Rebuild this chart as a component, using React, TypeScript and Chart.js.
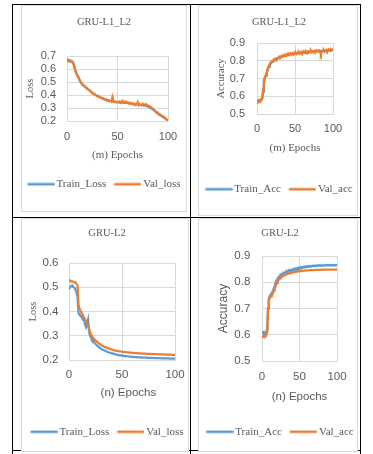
import React, { useEffect, useRef } from "react";
import { Chart, registerables } from "chart.js";
Chart.register(...registerables);

// ---------- data ----------
const EPOCHS = Array.from({ length: 101 }, (_, i) => i);
const X_TICKS = [0, 50, 100];
const Y_TICKS_LOSS_L1L2 = [0.2, 0.3, 0.4, 0.5, 0.6, 0.7];
const Y_TICKS_ACC_L1L2 = [0.5, 0.6, 0.7, 0.8, 0.9];
const Y_TICKS_LOSS_L2 = [0.2, 0.3, 0.4, 0.5, 0.6];
const Y_TICKS_ACC_L2 = [0.5, 0.6, 0.7, 0.8, 0.9];

const TRAIN_LOSS_L1L2 = [
  0.676, 0.672, 0.668, 0.667, 0.663, 0.66, 0.652, 0.63, 0.598, 0.572,
  0.556, 0.543, 0.525, 0.508, 0.495, 0.484, 0.478, 0.47, 0.464, 0.457,
  0.45, 0.443, 0.437, 0.431, 0.424, 0.417, 0.41, 0.407, 0.402, 0.397,
  0.392, 0.388, 0.385, 0.382, 0.377, 0.374, 0.371, 0.368, 0.364, 0.362,
  0.359, 0.357, 0.355, 0.353, 0.351, 0.35, 0.349, 0.348, 0.347, 0.346,
  0.345, 0.344, 0.344, 0.343, 0.342, 0.342, 0.341, 0.34, 0.34, 0.339,
  0.338, 0.337, 0.336, 0.335, 0.333, 0.332, 0.331, 0.33, 0.329, 0.328,
  0.327, 0.326, 0.325, 0.324, 0.323, 0.322, 0.321, 0.319, 0.317, 0.315,
  0.312, 0.308, 0.304, 0.299, 0.294, 0.288, 0.281, 0.275, 0.268, 0.262,
  0.256, 0.25, 0.245, 0.24, 0.235, 0.23, 0.226, 0.221, 0.215, 0.209, 0.203,
];
const VAL_LOSS_L1L2 = [
  0.66, 0.662, 0.658, 0.66, 0.656, 0.652, 0.645, 0.625, 0.595, 0.57,
  0.552, 0.54, 0.522, 0.505, 0.492, 0.482, 0.476, 0.468, 0.462, 0.455,
  0.448, 0.442, 0.436, 0.43, 0.423, 0.416, 0.408, 0.41, 0.401, 0.396,
  0.392, 0.386, 0.39, 0.381, 0.377, 0.372, 0.376, 0.366, 0.362, 0.366,
  0.356, 0.36, 0.352, 0.356, 0.35, 0.384, 0.352, 0.346, 0.351, 0.345,
  0.342, 0.347, 0.351, 0.34, 0.346, 0.356, 0.341, 0.346, 0.35, 0.34,
  0.344, 0.336, 0.341, 0.335, 0.331, 0.336, 0.326, 0.331, 0.322, 0.33,
  0.345, 0.321, 0.33, 0.326, 0.32, 0.331, 0.321, 0.326, 0.331, 0.322,
  0.32, 0.316, 0.311, 0.306, 0.301, 0.296, 0.288, 0.281, 0.273, 0.268,
  0.262, 0.256, 0.251, 0.245, 0.241, 0.236, 0.231, 0.225, 0.219, 0.211, 0.204,
];
const TRAIN_ACC_L1L2 = [
  0.565, 0.568, 0.57, 0.572, 0.574, 0.576, 0.58, 0.588, 0.625, 0.675,
  0.697, 0.706, 0.718, 0.732, 0.745, 0.757, 0.767, 0.776, 0.783, 0.789,
  0.794, 0.798, 0.801, 0.804, 0.807, 0.81, 0.812, 0.814, 0.816, 0.818,
  0.82, 0.822, 0.823, 0.825, 0.826, 0.828, 0.829, 0.83, 0.831, 0.832,
  0.833, 0.834, 0.835, 0.836, 0.837, 0.838, 0.839, 0.839, 0.84, 0.841,
  0.841, 0.842, 0.843, 0.843, 0.844, 0.844, 0.845, 0.845, 0.846, 0.846,
  0.847, 0.847, 0.848, 0.848, 0.849, 0.849, 0.849, 0.85, 0.85, 0.851,
  0.851, 0.851, 0.852, 0.852, 0.852, 0.853, 0.853, 0.853, 0.854, 0.854,
  0.854, 0.855, 0.855, 0.855, 0.856, 0.856, 0.856, 0.857, 0.857, 0.857,
  0.858, 0.858, 0.858, 0.859, 0.859, 0.859, 0.86, 0.86, 0.86, 0.861, 0.861,
];
const VAL_ACC_L1L2 = [
  0.575, 0.572, 0.578, 0.574, 0.58, 0.577, 0.585, 0.592, 0.64, 0.69,
  0.705, 0.712, 0.728, 0.742, 0.756, 0.768, 0.776, 0.785, 0.79, 0.794,
  0.798, 0.8, 0.806, 0.803, 0.811, 0.812, 0.809, 0.816, 0.818, 0.814,
  0.822, 0.819, 0.825, 0.823, 0.828, 0.825, 0.831, 0.827, 0.833, 0.829,
  0.836, 0.831, 0.838, 0.834, 0.841, 0.836, 0.839, 0.843, 0.835, 0.842,
  0.84, 0.845, 0.838, 0.844, 0.842, 0.848, 0.841, 0.846, 0.85, 0.843,
  0.847, 0.852, 0.845, 0.849, 0.855, 0.846, 0.851, 0.848, 0.853, 0.847,
  0.85, 0.856, 0.848, 0.852, 0.849, 0.855, 0.85, 0.853, 0.858, 0.851,
  0.855, 0.852, 0.857, 0.85, 0.838, 0.852, 0.856, 0.853, 0.859, 0.852,
  0.857, 0.861, 0.854, 0.858, 0.863, 0.855, 0.86, 0.866, 0.858, 0.862, 0.864,
];
const TRAIN_LOSS_L2 = [
  0.492, 0.5, 0.505, 0.508, 0.502, 0.498, 0.492, 0.48, 0.462, 0.392,
  0.386, 0.382, 0.376, 0.368, 0.372, 0.35, 0.336, 0.348, 0.366, 0.316,
  0.298, 0.29, 0.278, 0.286, 0.27, 0.266, 0.262, 0.258, 0.254, 0.25,
  0.247, 0.244, 0.242, 0.24, 0.238, 0.236, 0.234, 0.232, 0.231, 0.229,
  0.228, 0.227, 0.226, 0.224, 0.223, 0.222, 0.221, 0.22, 0.219, 0.219,
  0.218, 0.217, 0.217, 0.216, 0.216, 0.215, 0.215, 0.214, 0.214, 0.213,
  0.213, 0.213, 0.212, 0.212, 0.212, 0.211, 0.211, 0.211, 0.211, 0.21,
  0.21, 0.21, 0.21, 0.21, 0.209, 0.209, 0.209, 0.209, 0.209, 0.209,
  0.208, 0.208, 0.208, 0.208, 0.208, 0.208, 0.208, 0.207, 0.207, 0.207,
  0.207, 0.207, 0.207, 0.207, 0.207, 0.206, 0.206, 0.206, 0.206, 0.206, 0.206,
];
const VAL_LOSS_L2 = [
  0.532, 0.528, 0.524, 0.525, 0.522, 0.52, 0.521, 0.514, 0.508, 0.425,
  0.412, 0.402, 0.392, 0.385, 0.377, 0.37, 0.362, 0.352, 0.342, 0.326,
  0.312, 0.303, 0.296, 0.29, 0.285, 0.281, 0.277, 0.273, 0.27, 0.266,
  0.263, 0.26, 0.258, 0.256, 0.254, 0.252, 0.25, 0.248, 0.247, 0.245,
  0.244, 0.243, 0.241, 0.24, 0.239, 0.238, 0.237, 0.236, 0.236, 0.235,
  0.234, 0.233, 0.233, 0.232, 0.232, 0.231, 0.231, 0.23, 0.23, 0.229,
  0.229, 0.229, 0.228, 0.228, 0.228, 0.227, 0.227, 0.227, 0.227, 0.226,
  0.226, 0.226, 0.226, 0.225, 0.225, 0.225, 0.225, 0.225, 0.224, 0.224,
  0.224, 0.224, 0.224, 0.224, 0.223, 0.223, 0.223, 0.223, 0.223, 0.223,
  0.223, 0.222, 0.222, 0.222, 0.222, 0.222, 0.222, 0.221, 0.221, 0.221, 0.221,
];
const TRAIN_ACC_L2 = [
  0.614, 0.61, 0.605, 0.6, 0.608, 0.604, 0.612, 0.622, 0.7, 0.735,
  0.746, 0.75, 0.755, 0.758, 0.765, 0.772, 0.78, 0.789, 0.797, 0.804,
  0.81, 0.815, 0.818, 0.822, 0.825, 0.828, 0.827, 0.832, 0.83, 0.835,
  0.833, 0.838, 0.836, 0.84, 0.837, 0.843, 0.839, 0.844, 0.842, 0.846,
  0.844, 0.848, 0.846, 0.85, 0.847, 0.851, 0.849, 0.853, 0.851, 0.854,
  0.852, 0.856, 0.854, 0.857, 0.855, 0.858, 0.857, 0.859, 0.858, 0.86,
  0.859, 0.861, 0.86, 0.861, 0.86, 0.862, 0.861, 0.862, 0.861, 0.863,
  0.862, 0.863, 0.862, 0.863, 0.862, 0.864, 0.863, 0.864, 0.863, 0.864,
  0.863, 0.864, 0.863, 0.864, 0.864, 0.865, 0.864, 0.865, 0.864, 0.865,
  0.864, 0.865, 0.864, 0.865, 0.865, 0.865, 0.864, 0.865, 0.865, 0.865, 0.865,
];
const VAL_ACC_L2 = [
  0.596, 0.594, 0.597, 0.595, 0.598, 0.597, 0.6, 0.612, 0.7, 0.728,
  0.738, 0.742, 0.746, 0.749, 0.754, 0.761, 0.769, 0.777, 0.784, 0.791,
  0.797, 0.803, 0.808, 0.812, 0.815, 0.818, 0.82, 0.822, 0.824, 0.826,
  0.827, 0.829, 0.83, 0.831, 0.832, 0.833, 0.834, 0.835, 0.836, 0.836,
  0.837, 0.838, 0.838, 0.839, 0.839, 0.84, 0.84, 0.841, 0.841, 0.842,
  0.842, 0.842, 0.843, 0.843, 0.843, 0.844, 0.844, 0.844, 0.844, 0.845,
  0.845, 0.845, 0.845, 0.845, 0.846, 0.846, 0.846, 0.846, 0.846, 0.846,
  0.846, 0.847, 0.847, 0.847, 0.847, 0.847, 0.847, 0.847, 0.847, 0.847,
  0.848, 0.848, 0.848, 0.848, 0.848, 0.848, 0.848, 0.848, 0.848, 0.848,
  0.848, 0.848, 0.848, 0.848, 0.848, 0.848, 0.848, 0.848, 0.848, 0.848, 0.848,
];

// ---------- style ----------
const BLUE = "#5B9BD5";
const ORANGE = "#ED7D31";
const TEXT = "#595959";
const GRID = "#D9D9D9";
const SERIF = "'Liberation Serif', 'Times New Roman', serif";
const SANS = "'Liberation Sans', Arial, sans-serif";

type PanelCfg = {
  title: string;
  trainLabel: string;
  valLabel: string;
  train: number[];
  val: number[];
  yTicks: number[];
  yTitle: string;
  yTitleFont: any;
  yTitlePad: number;
  xTitle: string;
  xTitleFont: any;
  xTitleBottom: number;
  tickSize: number;
  cl: number; ct: number; cw: number; ch: number;
  yW: number; rW: number; xH: number;
  yPad: number; xPad: number;
  titleTop: number; titleBottom: number;
  padBottom: number;
};

const PANELS: PanelCfg[] = [
  {
    title: "GRU-L1_L2", trainLabel: "Train_Loss", valLabel: "Val_loss",
    train: TRAIN_LOSS_L1L2, val: VAL_LOSS_L1L2, yTicks: Y_TICKS_LOSS_L1L2,
    yTitle: "Loss", yTitleFont: { family: SERIF, size: 10.5 }, yTitlePad: 13,
    xTitle: "(m) Epochs", xTitleFont: { family: SERIF, size: 11 }, xTitleBottom: 9.2,
    tickSize: 11,
    cl: 11, ct: 6, cw: 186, ch: 204,
    yW: 56, rW: 29, xH: 49.8, yPad: 11, xPad: 9.7,
    titleTop: 9.7, titleBottom: 27.7, padBottom: 10.2,
  },
  {
    title: "GRU-L1_L2", trainLabel: "Train_Acc", valLabel: "Val_acc",
    train: TRAIN_ACC_L1L2, val: VAL_ACC_L1L2, yTicks: Y_TICKS_ACC_L1L2,
    yTitle: "Accuracy", yTitleFont: { family: SERIF, size: 10.5 }, yTitlePad: 26,
    xTitle: "(m) Epochs", xTitleFont: { family: SERIF, size: 11 }, xTitleBottom: 21.5,
    tickSize: 11,
    cl: 189, ct: 6, cw: 180, ch: 208,
    yW: 68, rW: 36, xH: 61.8, yPad: 12, xPad: 8.4,
    titleTop: 9.7, titleBottom: 14.7, padBottom: 9.2,
  },
  {
    title: "GRU-L2", trainLabel: "Train_Loss", valLabel: "Val_loss",
    train: TRAIN_LOSS_L2, val: VAL_LOSS_L2, yTicks: Y_TICKS_LOSS_L2,
    yTitle: "Loss", yTitleFont: { family: SERIF, size: 10.5 }, yTitlePad: 15,
    xTitle: "    (n) Epochs", xTitleFont: { family: SANS, size: 11.5 }, xTitleBottom: 18,
    tickSize: 11.5,
    cl: 12, ct: 219, cw: 190, ch: 231,
    yW: 57, rW: 27, xH: 58.2, yPad: 10.5, xPad: 8.1,
    titleTop: 8, titleBottom: 23.4, padBottom: 2.8,
  },
  {
    title: "GRU-L2", trainLabel: "Train_Acc", valLabel: "Val_acc",
    train: TRAIN_ACC_L2, val: VAL_ACC_L2, yTicks: Y_TICKS_ACC_L2,
    yTitle: "Accuracy", yTitleFont: { family: SANS, size: 12 }, yTitlePad: 26.8,
    xTitle: "(n) Epochs", xTitleFont: { family: SANS, size: 11.5 }, xTitleBottom: 14.6,
    tickSize: 11.5,
    cl: 190, ct: 219, cw: 180, ch: 231,
    yW: 72, rW: 33, xH: 57.2, yPad: 11.7, xPad: 8.8,
    titleTop: 8, titleBottom: 16.4, padBottom: 2.8,
  },
];

const BOXES = [
  { left: 21, top: 5, width: 166, height: 207 },
  { left: 198, top: 5, width: 160, height: 211 },
  { left: 21, top: 218, width: 168, height: 234 },
  { left: 198, top: 218, width: 160, height: 234 },
];

const LINES = [
  { left: 12, top: 4, width: 349, height: 1 },
  { left: 12, top: 217, width: 349, height: 1 },
  { left: 12, top: 450, width: 349, height: 1 },
  { left: 12, top: 4, width: 1, height: 450 },
  { left: 190, top: 4, width: 1, height: 450 },
  { left: 360, top: 4, width: 1, height: 450 },
];

// legend marker: a short line whose right end sits close to the label text
const LEGEND_BOX_W = 23.5;
function legendLine(color: string): HTMLCanvasElement {
  const c = document.createElement("canvas");
  c.width = 31;
  c.height = 4;
  const ctx = c.getContext("2d");
  if (ctx) {
    ctx.fillStyle = color;
    ctx.fillRect(3.75, 0.75, 27, 2.5);
  }
  return c;
}

function buildConfig(p: PanelCfg): any {
  const tickFont = { family: SANS, size: p.tickSize };
  return {
    type: "line",
    data: {
      labels: EPOCHS,
      datasets: [
        {
          label: p.trainLabel, data: p.train, borderColor: BLUE, backgroundColor: BLUE,
          borderWidth: 2.25, pointRadius: 0, tension: 0, order: 1, xAxisID: "x", yAxisID: "y",
          pointStyle: legendLine(BLUE),
        },
        {
          label: p.valLabel, data: p.val, borderColor: ORANGE, backgroundColor: ORANGE,
          borderWidth: 2.25, pointRadius: 0, tension: 0, order: 0, xAxisID: "x", yAxisID: "y",
          pointStyle: legendLine(ORANGE),
        },
      ],
    },
    options: {
      animation: false,
      responsive: false,
      events: [],
      layout: { padding: { left: 0, right: 0, top: 0, bottom: p.padBottom } },
      plugins: {
        title: {
          display: true, text: p.title, color: TEXT,
          font: { family: SERIF, size: 10.5, weight: "normal" },
          padding: { top: p.titleTop, bottom: p.titleBottom },
        },
        legend: {
          position: "bottom",
          labels: {
            usePointStyle: true, pointStyleWidth: LEGEND_BOX_W,
            padding: 8, color: TEXT, font: { family: SERIF, size: 11 },
            sort: (a: any, b: any) => a.datasetIndex - b.datasetIndex,
          },
        },
        tooltip: { enabled: false },
      },
      scales: {
        x: {
          type: "linear", position: "bottom",
          min: X_TICKS[0], max: X_TICKS[X_TICKS.length - 1],
          afterBuildTicks: (s: any) => { s.ticks = X_TICKS.map((v) => ({ value: v })); },
          afterFit: (s: any) => { s.height = p.xH; },
          grid: { color: GRID, lineWidth: 1, drawTicks: false },
          border: { color: GRID, width: 1 },
          ticks: { color: TEXT, font: tickFont, padding: p.xPad, maxRotation: 0, autoSkip: false },
          title: {
            display: true, text: p.xTitle, color: TEXT, font: p.xTitleFont,
            padding: { top: 0, bottom: p.xTitleBottom },
          },
        },
        y: {
          type: "linear", position: "left",
          min: p.yTicks[0], max: p.yTicks[p.yTicks.length - 1],
          afterBuildTicks: (s: any) => { s.ticks = p.yTicks.map((v) => ({ value: v })); },
          afterFit: (s: any) => { s.width = p.yW; },
          grid: { color: GRID, lineWidth: 1, drawTicks: false },
          border: { color: GRID, width: 1 },
          ticks: {
            color: TEXT, font: tickFont, padding: p.yPad, autoSkip: false,
            callback: (v: any) => Number(v).toFixed(1),
          },
          title: {
            display: true, text: p.yTitle, color: TEXT, font: p.yTitleFont,
            padding: { top: p.yTitlePad, bottom: 0 },
          },
        },
        yR: {
          type: "linear", position: "right", display: true,
          grid: { display: false }, border: { display: false },
          ticks: { display: false },
          afterFit: (s: any) => { s.width = p.rW; },
        },
      },
    },
  };
}

function Panel({ cfg }: { cfg: PanelCfg }) {
  const ref = useRef<HTMLCanvasElement | null>(null);
  useEffect(() => {
    if (!ref.current) return;
    const chart = new Chart(ref.current, buildConfig(cfg));
    return () => chart.destroy();
  }, [cfg]);
  return (
    <canvas
      ref={ref}
      width={cfg.cw}
      height={cfg.ch}
      style={{ position: "absolute", left: cfg.cl, top: cfg.ct, width: cfg.cw, height: cfg.ch }}
    />
  );
}

export default function App() {
  return (
    <div style={{ position: "absolute", left: 0, top: 0, width: 373, height: 454, background: "#fff", overflow: "hidden" }}>
      {LINES.map((l, i) => (
        <div key={"l" + i} style={{ position: "absolute", ...l, background: "#000" }} />
      ))}
      {BOXES.map((b, i) => (
        <div
          key={"b" + i}
          style={{ position: "absolute", ...b, boxSizing: "border-box", border: "1px solid #D9D9D9", background: "#fff" }}
        />
      ))}
      {PANELS.map((p, i) => (
        <Panel key={"p" + i} cfg={p} />
      ))}
    </div>
  );
}
